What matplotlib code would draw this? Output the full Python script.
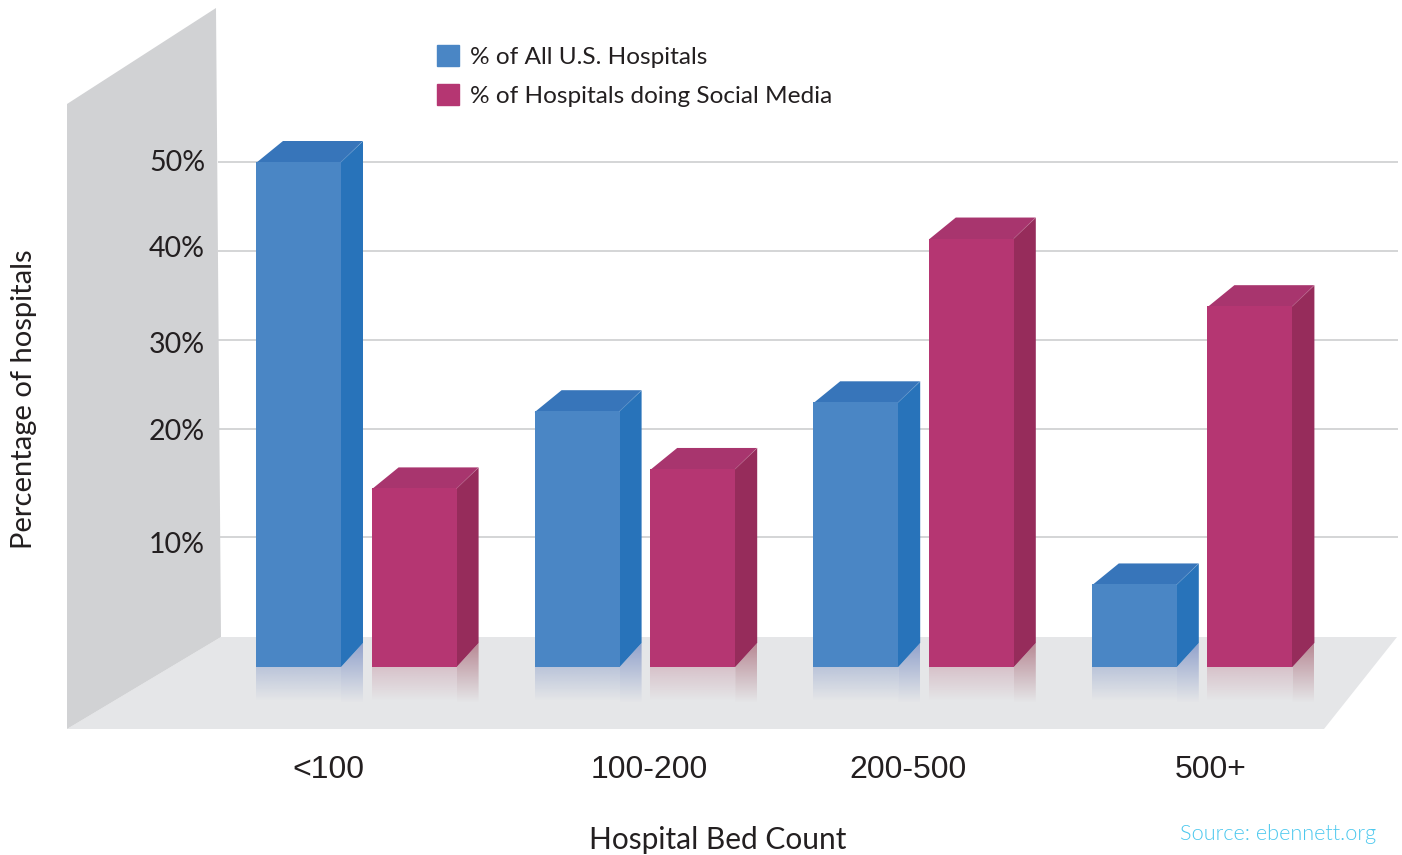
#!/usr/bin/env python3
# -*- coding: utf-8 -*-
import numpy as np
from matplotlib import pyplot as plt
from matplotlib import font_manager
from matplotlib.colors import to_rgb
from matplotlib.patches import Patch, Polygon
from matplotlib.transforms import IdentityTransform

W, H = 1402, 855

categories = ['<100', '100-200', '200-500', '500+']
all_hospitals = [50.0, 22.0, 23.0, 6.35]
social_media = [14.5, 16.3, 41.4, 33.8]

tick_values = [10, 20, 30, 40, 50]
tick_labels = ['10%', '20%', '30%', '40%', '50%']
tick_label_y = [545, 432, 345, 249, 163]
cat_label_x = [328, 649, 908, 1211]

# the axis of the original is not linear: value -> pixel row
scale_vals = [-14.46, 0, 10, 20, 30, 40, 50, 68.2]
scale_rows = [855, 667, 537, 429, 340, 251, 162, 0]

BLUE, BLUE_SIDE, BLUE_TOP = '#4a86c5', '#2873ba', '#3775ba'
MAG, MAG_SIDE, MAG_TOP = '#b53672', '#962c5b', '#a8356e'
TXT = '#231f20'
GILL = ['Lato', 'DejaVu Sans']
ARIAL = ['Liberation Sans', 'DejaVu Sans']

# weight='light' lands on Lato Hairline, so look the light file up by name
light_files = [f.fname for f in font_manager.fontManager.ttflist
               if f.fname.endswith('Lato-Light.ttf')]
if light_files:
    source_font = font_manager.FontProperties(fname=light_files[0], size=15.7)
else:
    source_font = font_manager.FontProperties(family='Lato', size=15.7)


def forward(v):
    return -np.interp(v, scale_vals, scale_rows)


def inverse(r):
    return np.interp(-np.asarray(r), scale_rows[::-1], scale_vals[::-1])


def px(points):
    # picture pixels (row counted from the top) -> display coordinates
    return [(x, H - y) for x, y in points]


fig = plt.figure(figsize=(W / 100, H / 100), dpi=100)
ax = fig.add_axes([0, 0, 1, 1])
ax.set_yscale('function', functions=(forward, inverse))
ax.set_ylim(scale_vals[0], scale_vals[-1])

x_step = 278.6
x_zero = 356.5
ax.set_xlim(-x_zero / x_step, (W - x_zero) / x_step)
ax.set_autoscale_on(False)
ax.axis('off')


def shape(points, color, z):
    ax.add_patch(Polygon(px(points), closed=True, facecolor=color, edgecolor='none',
                         transform=IdentityTransform(), zorder=z, clip_on=False))


def fade(x0, x1, row0, row1, color, alpha, outline):
    # reflection on the floor, fades out going down
    rgba = np.zeros((64, 2, 4))
    rgba[..., :3] = to_rgb(color)
    rgba[..., 3] = np.linspace(alpha, 0, 64)[:, None]
    im = ax.imshow(rgba, extent=(x0, x1, H - row1, H - row0), origin='upper', aspect='auto',
                   transform=IdentityTransform(), zorder=2, interpolation='bilinear')
    im.set_clip_path(Polygon(px(outline), closed=True, transform=IdentityTransform()))


# floor and wall
shape([(67, 729), (221, 637), (1397, 637), (1324, 729)], '#e5e6e8', 1)
ax.hlines(tick_values, (218 - x_zero) / x_step, (1398 - x_zero) / x_step,
          color='#c9cacc', lw=1.1, zorder=0.5)
shape([(67, 104), (216, 8), (221, 637), (67, 729)], '#d1d2d4', 1.5)

# bars
groups = np.arange(len(categories))
bar_w = 85 / x_step
blue_off = 58 / x_step
mag_off = 57.6 / x_step

base = 667
series = [(groups - blue_off, all_hospitals, BLUE_SIDE, BLUE_TOP, '#4f6fb5', '#3f5fb0', 0.28, 0.50),
          (groups + mag_off, social_media, MAG_SIDE, MAG_TOP, '#a03050', '#8a2c40', 0.20, 0.50)]
for xs, vals, side, top, refl_front, refl_side, a_front, a_side in series:
    for xc, v in zip(xs, vals):
        left = x_zero + (xc - bar_w / 2) * x_step
        right = left + 85
        row = -forward(v)
        # side and top run a little under the front face, no seam between them
        shape([(right - 1, row), (right, row), (right + 22, row - 21), (right + 22, base - 24),
               (right, base), (right - 1, base)], side, 2.8)
        shape([(left, row + 1), (left + 27, row - 21), (right + 22, row - 21), (right, row + 1)], top, 2.7)
        ax.plot(*zip(*px([(right, row), (right + 22, row - 21)])), color='#ffffff', alpha=0.25,
                lw=0.5, transform=IdentityTransform(), zorder=3.1)
        fade(left, right, base, base + 34, refl_front, a_front,
             [(left, base), (right, base), (right, base + 34), (left, base + 34)])
        fade(right, right + 22, base - 24, base + 36, refl_side, a_side,
             [(right, base), (right + 22, base - 24), (right + 22, base + 36), (right, base + 36)])

ax.bar(groups - blue_off, all_hospitals, bar_w, color=BLUE, zorder=3)
ax.bar(groups + mag_off, social_media, bar_w, color=MAG, zorder=3)

# axis texts
for lab, row in zip(tick_labels, tick_label_y):
    ax.text(205, H - row, lab, ha='right', va='center', fontsize=20.5, color=TXT,
            family=GILL, transform=IdentityTransform(), zorder=4)
for lab, col in zip(categories, cat_label_x):
    ax.text(col, H - 770, lab, ha='center', va='center', fontsize=23, color=TXT,
            family=ARIAL, transform=IdentityTransform())
ax.text(718, H - 840, 'Hospital Bed Count', ha='center', va='center', fontsize=21.5, color=TXT,
        family=GILL, transform=IdentityTransform())
ax.text(24, H - 399, 'Percentage of hospitals', ha='center', va='center', rotation=90, fontsize=21,
        color=TXT, family=GILL, transform=IdentityTransform())
ax.text(1376, H - 834, 'Source: ebennett.org', ha='right', va='center', color='#4cc8ee',
        fontproperties=source_font, transform=IdentityTransform())

handles = [Patch(color=BLUE, label='% of All U.S. Hospitals'),
           Patch(color=MAG, label='% of Hospitals doing Social Media')]
leg = ax.legend(handles=handles, loc='upper left', bbox_to_anchor=(437 / W, 1 - 45 / H),
                frameon=False, handlelength=0.92, handleheight=0.92,
                handletextpad=0.42, labelspacing=0.68, borderpad=0, borderaxespad=0,
                prop={'family': GILL, 'size': 17.6}, labelcolor=TXT)

plt.savefig('out.png', dpi=100)
